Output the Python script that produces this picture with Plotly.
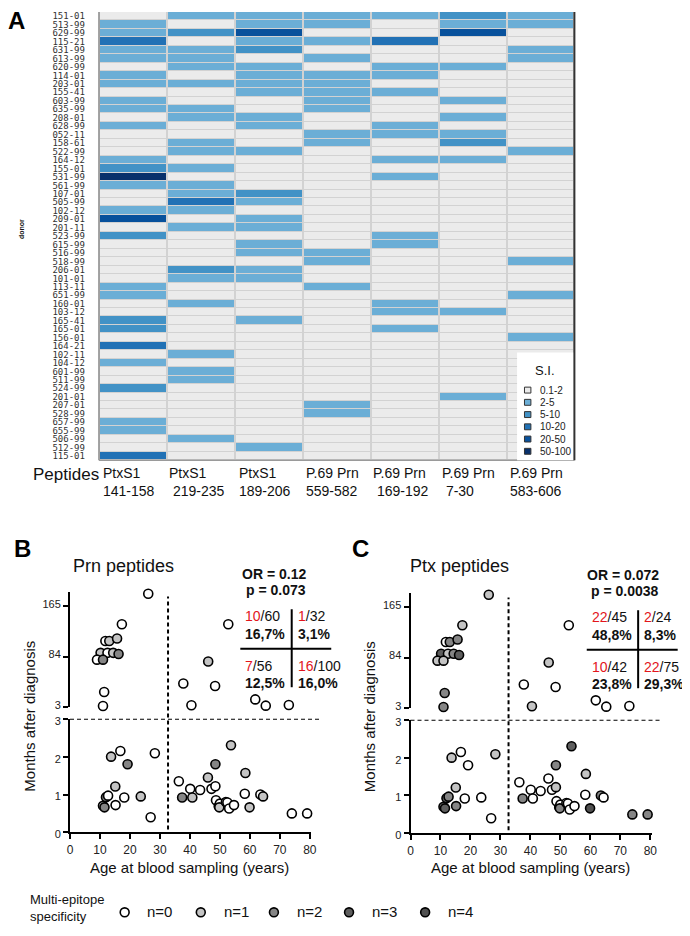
import numpy as np
import plotly.graph_objects as go

W, H = 690, 936
OFF = 8  # the page body adds an 8px margin around the plot div
FONT = "Liberation Sans, Arial, sans-serif"

# ─── Panel A data ────────────────────────────────────────────────────────────

donors = [
    "151-01", "513-99", "629-99", "115-21", "631-99", "613-99", "620-99",
    "114-01", "203-01", "155-41", "603-99", "635-99", "208-01", "628-99",
    "052-11", "158-61", "522-99", "164-12", "155-01", "531-99", "561-99",
    "107-01", "505-99", "102-12", "209-01", "201-11", "523-99", "615-99",
    "516-99", "518-99", "206-01", "101-01", "113-11", "651-99", "160-01",
    "103-12", "165-41", "165-01", "156-01", "164-21", "102-11", "104-12",
    "601-99", "511-99", "524-99", "201-01", "207-01", "528-99", "657-99",
    "655-99", "506-99", "512-99", "115-01",
]

peptides = [
    "PtxS1<br>141-158", "PtxS1<br> 219-235", "PtxS1<br>189-206",
    "P.69 Prn<br>559-582", "P.69 Prn<br> 169-192", "P.69 Prn<br> 7-30",
    "P.69 Prn<br>583-606",
]

# S.I. class per donor (row) and peptide (column): 0 = 0.1-2 ... 5 = 50-100
si_levels = [
    [0, 1, 1, 1, 1, 2, 1], [1, 0, 1, 1, 0, 1, 1], [1, 2, 4, 0, 0, 4, 0],
    [3, 0, 1, 1, 3, 0, 0], [1, 1, 2, 0, 0, 0, 1], [1, 1, 0, 1, 0, 0, 1],
    [0, 1, 1, 0, 1, 1, 0], [1, 0, 1, 1, 1, 0, 0], [1, 1, 1, 1, 0, 0, 0],
    [0, 0, 1, 1, 1, 0, 0], [1, 0, 0, 1, 0, 1, 0], [1, 1, 0, 1, 0, 0, 0],
    [0, 1, 1, 0, 0, 1, 0], [1, 0, 1, 0, 1, 0, 0], [0, 0, 0, 1, 1, 1, 0],
    [0, 1, 0, 1, 0, 2, 0], [0, 1, 1, 0, 0, 0, 1], [1, 0, 0, 0, 1, 1, 0],
    [2, 1, 0, 0, 0, 0, 0], [5, 0, 0, 0, 1, 0, 0], [1, 1, 0, 0, 0, 0, 0],
    [0, 1, 2, 0, 0, 0, 0], [0, 3, 1, 0, 0, 0, 0], [1, 1, 0, 0, 0, 0, 0],
    [4, 0, 1, 0, 0, 0, 0], [0, 1, 1, 0, 0, 0, 0], [2, 0, 0, 0, 1, 0, 0],
    [0, 0, 1, 0, 1, 0, 0], [0, 0, 1, 1, 0, 0, 0], [0, 0, 0, 1, 0, 0, 1],
    [0, 2, 1, 0, 0, 0, 0], [0, 1, 1, 0, 0, 0, 0], [1, 0, 0, 1, 0, 0, 0],
    [1, 0, 0, 0, 0, 0, 1], [0, 1, 0, 0, 1, 0, 0], [0, 0, 0, 0, 1, 1, 0],
    [2, 0, 1, 0, 0, 0, 0], [2, 0, 0, 0, 1, 0, 0], [0, 0, 0, 0, 0, 0, 1],
    [3, 0, 0, 0, 0, 0, 0], [0, 1, 0, 0, 0, 0, 0], [1, 0, 0, 0, 0, 0, 0],
    [0, 1, 0, 0, 0, 0, 0], [0, 1, 0, 0, 0, 0, 0], [2, 0, 0, 0, 0, 0, 0],
    [0, 0, 0, 0, 0, 1, 0], [0, 0, 0, 1, 0, 0, 0], [0, 0, 0, 1, 0, 0, 0],
    [1, 0, 0, 0, 0, 0, 0], [1, 0, 0, 0, 0, 0, 0], [0, 1, 0, 0, 0, 0, 0],
    [0, 0, 1, 0, 0, 0, 0], [3, 0, 0, 0, 0, 0, 0],
]

si_labels = ["0.1-2", "2-5", "5-10", "10-20", "20-50", "50-100"]
si_colors = ["#ebebeb", "#6baed6", "#4292c6", "#2171b5", "#08519c", "#08306b"]

# ─── Panels B / C data ───────────────────────────────────────────────────────

age = [
    26.1, 17.3, 11.8, 13.1, 15.7, 10.2, 12.5, 14.4, 16.2, 9.0, 11.0, 11.4, 11.0,
    52.8, 46.1, 37.8, 48.4, 40.5, 61.8, 65.3, 73.0,
    13.7, 16.8, 19.2, 28.3, 15.1, 12.0, 12.7, 11.0, 11.5, 15.2, 18.1, 23.6, 26.9,
    36.3, 37.4, 40.1, 40.8, 43.4, 46.0, 47.2, 48.5, 48.5, 48.7, 49.6, 50.0,
    49.8, 52.0, 52.5, 53.1, 54.7, 53.7, 58.5, 58.3, 59.9, 63.5, 64.4, 74.0, 79.1,
]
months = [
    185, 136, 109, 109, 113, 90, 90, 90, 88, 79, 79, 27, 4.6,
    136, 76, 40.6, 36.8, 5.7, 15.2, 5.1, 6.2,
    2.0, 2.15, 1.8, 2.09, 1.21, 0.93, 0.97, 0.70, 0.66, 0.72, 0.92, 0.95, 0.40,
    1.35, 0.92, 1.15, 0.92, 1.12, 1.45, 1.15, 1.8, 1.22, 0.85, 0.69, 0.76,
    0.66, 0.80, 0.79, 0.63, 0.72, 2.3, 1.57, 1.02, 0.66, 1.0, 0.95, 0.5, 0.5,
]
prn_n = [
    0, 0, 0, 1, 1, 1, 0, 1, 2, 0, 2, 0, 0,
    0, 1, 0, 0, 0, 0, 0, 0,
    1, 0, 2, 0, 1, 2, 0, 1, 2, 0, 0, 1, 0,
    0, 2, 0, 1, 0, 1, 0, 2, 0, 0, 2, 0,
    1, 1, 0, 0, 0, 1, 1, 0, 1, 0, 1, 0, 0,
]
ptx_n = [
    1, 1, 0, 2, 2, 3, 1, 2, 3, 1, 1, 2, 2,
    0, 1, 0, 0, 1, 0, 0, 0,
    1, 0, 0, 1, 1, 3, 2, 2, 3, 2, 0, 0, 0,
    0, 2, 0, 0, 0, 0, 0, 2, 1, 0, 3, 0,
    2, 0, 0, 0, 0, 3, 1, 0, 4, 2, 0, 2, 2,
]
age_cut = 32.7
month_cut = 3

n_labels = ["n=0", "n=1", "n=2", "n=3", "n=4"]
n_colors = ["#ffffff", "#c4c4c4", "#858585", "#5e5e5e", "#505050"]

prn_stats = ["OR = 0.12", "p = 0.073"]
prn_table = [["10", "/60", "16,7%"], ["1", "/32", "3,1%"],
             ["7", "/56", "12,5%"], ["16", "/100", "16,0%"]]
ptx_stats = ["OR = 0.072", "p = 0.0038"]
ptx_table = [["22", "/45", "48,8%"], ["2", "/24", "8,3%"],
             ["10", "/42", "23,8%"], ["22", "/75", "29,3%"]]


def px(x):
    """Screen pixel (from the left of the window) to paper fraction."""
    return (x - OFF) / W


def py(y):
    """Screen pixel (from the top of the window) to paper fraction."""
    return 1 - (y - OFF) / H


fig = go.Figure()
shapes = []
ann = []

# ─── Panel A: heatmap ────────────────────────────────────────────────────────

cs = []
for i, c in enumerate(si_colors):
    cs += [[i / 6, c], [(i + 1) / 6, c]]

fig.add_trace(go.Heatmap(
    z=si_levels, x=list(range(len(peptides))), y=donors,
    colorscale=cs, zmin=-0.5, zmax=5.5, showscale=False,
    xgap=2, ygap=1, hoverinfo="skip", xaxis="x", yaxis="y",
))

HX0, HX1, HY0, HY1 = 97, 578, 8, 462
shapes += [
    dict(type="rect", xref="paper", yref="paper", layer="below",
         x0=px(HX0), x1=px(HX1), y0=py(HY1), y1=py(HY0),
         fillcolor="#d2d2d2", line=dict(width=0)),
    dict(type="line", xref="paper", yref="paper", x0=px(HX0), x1=px(HX0),
         y0=py(HY1), y1=py(HY0), line=dict(color="#8c8c8c", width=1.5)),
    dict(type="line", xref="paper", yref="paper", x0=px(HX0), x1=px(HX1),
         y0=py(HY1), y1=py(HY1), line=dict(color="#9a9a9a", width=1.5)),
]

# S.I. legend box
shapes.append(dict(type="rect", xref="paper", yref="paper",
                   x0=px(520), x1=px(HX1), y0=py(HY1), y1=py(353),
                   fillcolor="white", line=dict(width=0)))
shapes.append(dict(type="line", xref="paper", yref="paper", x0=px(HX1), x1=px(HX1),
                   y0=py(HY1), y1=py(HY0), line=dict(color="#333333", width=2)))
ann.append(dict(text="S.I.", x=px(548), y=py(371),
                font=dict(size=13, color="#111")))
for i, (lab, col) in enumerate(zip(si_labels, si_colors)):
    yc = 391 + i * 12.4
    shapes.append(dict(type="rect", xref="paper", yref="paper",
                       x0=px(527.5), x1=px(534), y0=py(yc + 3), y1=py(yc - 3),
                       fillcolor=col, line=dict(color="#333", width=1)))
    ann.append(dict(text=lab, x=px(541), y=py(yc), xanchor="left",
                    font=dict(size=10, color="#222")))

for i, lab in enumerate(peptides):
    ann.append(dict(text=lab, x=i - 0.06, xref="x", y=py(484), align="left",
                    font=dict(size=14, color="#111")))
ann.append(dict(text="Peptides", x=px(28), y=py(477), xanchor="left",
                font=dict(size=17, color="#111")))
ann.append(dict(text="<b>donor</b>", x=px(18), y=py(228), textangle=-90,
                font=dict(size=7, color="#111")))
ann.append(dict(text="<b>A</b>", x=px(14), y=py(17),
                font=dict(size=24, color="#000")))

layout_axes = dict(
    xaxis=dict(domain=[px(HX0), px(HX1)], anchor="y", range=[-0.5, 6.5],
               showticklabels=False, showgrid=False, zeroline=False, ticks=""),
    yaxis=dict(domain=[py(HY1), min(1.0, py(HY0))], anchor="x", type="category",
               autorange="reversed", showgrid=False, zeroline=False, ticks="",
               tickmode="array", tickvals=donors, ticktext=donors,
               ticklabelstandoff=13,
               tickfont=dict(family="DejaVu Sans Mono, Liberation Mono",
                             size=9, color="#333")),
)

# ─── Panels B and C: broken-axis scatter ─────────────────────────────────────

age_a = np.array(age)
months_a = np.array(months)
upper = months_a > month_cut

axis_style = dict(showline=True, linecolor="black", linewidth=2, ticks="outside",
                  ticklen=5, tickwidth=2, tickcolor="black", showgrid=False,
                  zeroline=False, tickfont=dict(family=FONT, size=12, color="#222"))
y_font = dict(family=FONT, size=11, color="#222")

panels = [
    dict(dx=0, n=prn_n, title="Prn peptides", stats=prn_stats, table=prn_table,
         letter="B", xa="x2", yl="y2", yu="y3", tx=0, sx=0, dy=0, lx=20, ttl=122),
    dict(dx=344.5, n=ptx_n, title="Ptx peptides", stats=ptx_stats, table=ptx_table,
         letter="C", xa="x3", yl="y4", yu="y5", tx=6, sx=4, dy=1, lx=362, ttl=462),
]

X0, X1, XMAX = 67.7, 312, 80.55
for p in panels:
    dx, dy = p["dx"], p["dy"]
    layout_axes["xaxis" + p["xa"][1:]] = dict(
        axis_style, domain=[px(X0 + dx), px(X1 + dx)], anchor=p["yl"],
        range=[0, XMAX], tickvals=list(range(0, 81, 10)))
    layout_axes["yaxis" + p["yl"][1:]] = dict(
        axis_style, domain=[py(839 + dy), py(724 + dy)], anchor=p["xa"],
        range=[0, 3], tickvals=[0, 1, 2, 3], tickfont=y_font, ticklabelshift=2)
    layout_axes["yaxis" + p["yu"][1:]] = dict(
        axis_style, domain=[py(712 + dy), py(596 + dy)], anchor=p["xa"],
        range=[3, 187], tickvals=[3, 84, 165], tickfont=y_font, ticklabelshift=-2)

    cols = np.array([n_colors[v] for v in p["n"]])
    for mask, ya in [(upper, p["yu"]), (~upper, p["yl"])]:
        fig.add_trace(go.Scatter(
            x=age_a[mask], y=months_a[mask], mode="markers",
            xaxis=p["xa"], yaxis=ya, cliponaxis=False, showlegend=False,
            hoverinfo="skip",
            marker=dict(size=9, color=cols[mask],
                        line=dict(color="black", width=1.6)),
        ))

    dash = dict(color="black", width=2, dash="4px,3px")
    shapes.append(dict(type="line", xref=p["xa"], yref="paper",
                       x0=age_cut, x1=age_cut, y0=py(836 + dy), y1=py(600 + dy),
                       line=dash))
    shapes.append(dict(type="line", xref="paper", yref=p["yl"],
                       x0=px(X0 + dx), x1=px(320 + dx), y0=month_cut, y1=month_cut,
                       line=dash))

    # contingency table
    tx = dx + p["tx"]
    shapes.append(dict(type="line", xref="paper", yref="paper",
                       x0=px(292 + tx), x1=px(292 + tx),
                       y0=py(692 + dy), y1=py(613 + dy),
                       line=dict(color="black", width=2)))
    shapes.append(dict(type="line", xref="paper", yref="paper",
                       x0=px(240 + tx), x1=px(332 + tx),
                       y0=py(653 + dy), y1=py(653 + dy),
                       line=dict(color="black", width=2)))
    cells = [(243, 620), (296, 620), (243, 670), (296, 670)]
    for (cx, cy), (hit, tot, pct) in zip(cells, p["table"]):
        ann.append(dict(
            text=f"<span style='color:#e3151c'>{hit}</span>{tot}",
            x=px(cx + tx), y=py(cy + dy), xanchor="left",
            font=dict(family=FONT, size=14, color="#111")))
        ann.append(dict(
            text=f"<b>{pct}</b>", x=px(cx + tx), y=py(cy + 18 + dy), xanchor="left",
            font=dict(family=FONT, size=14, color="#111")))

    sx = dx + p["sx"]
    ann.append(dict(text=f"<b>{p['stats'][0]}</b>", x=px(240 + sx), y=py(577 + dy),
                    xanchor="left", font=dict(family=FONT, size=14, color="#111")))
    ann.append(dict(text=f"<b>{p['stats'][1]}</b>", x=px(244 + sx), y=py(594 + dy),
                    xanchor="left", font=dict(family=FONT, size=14, color="#111")))

    ann.append(dict(text=p["title"], x=px(p["ttl"]), y=py(569),
                    font=dict(family=FONT, size=18, color="#111")))
    ann.append(dict(text=f"<b>{p['letter']}</b>", x=px(p["lx"]), y=py(551),
                    font=dict(family=FONT, size=24, color="#000")))
    ann.append(dict(text="Months after diagnosis", x=px(27 + dx), y=py(721 + dy),
                    textangle=-90, font=dict(family=FONT, size=15, color="#111")))
    ann.append(dict(text="Age at blood sampling (years)", x=px(189 + dx), y=py(875),
                    font=dict(family=FONT, size=15, color="#111")))

# ─── Multi-epitope legend ───────────────────────────────────────────────────

ann.append(dict(text="Multi-epitope<br>specificity", x=px(25), y=py(916),
                xanchor="left", align="left",
                font=dict(family=FONT, size=13, color="#111")))
legend_x = [123, 200, 274, 350, 427]
for cx, lab, col in zip(legend_x, n_labels, n_colors):
    shapes.append(dict(type="circle", xref="paper", yref="paper",
                       x0=px(cx - 4.5), x1=px(cx + 4.5), y0=py(924.5), y1=py(915.5),
                       fillcolor=col, line=dict(color="black", width=1.6)))
    ann.append(dict(text=lab, x=px(cx + 21), y=py(919), xanchor="left",
                    font=dict(family=FONT, size=15, color="#111")))

for a in ann:
    a.setdefault("xref", "paper")
    a.setdefault("yref", "paper")
    a.setdefault("xanchor", "center")
    a.setdefault("yanchor", "middle")
    a.setdefault("showarrow", False)

fig.update_layout(
    width=W, height=H,
    margin=dict(l=0, r=0, t=0, b=0),
    paper_bgcolor="white",
    plot_bgcolor="rgba(0,0,0,0)",
    font=dict(family=FONT, color="#111"),
    showlegend=False,
    shapes=shapes,
    annotations=ann,
    **layout_axes,
)

fig.write_html("out.html")
